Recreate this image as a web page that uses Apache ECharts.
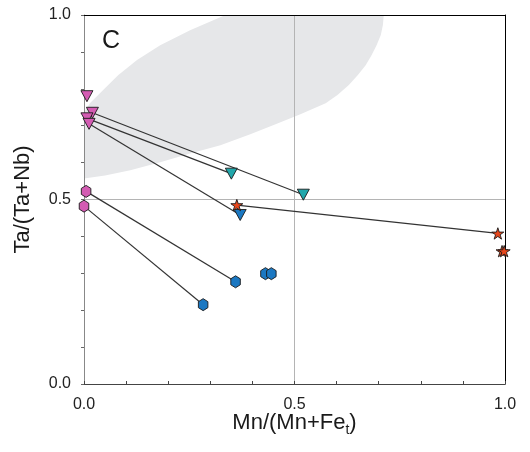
<!DOCTYPE html>
<html>
<head>
<meta charset="utf-8">
<script src="https://cdn.jsdelivr.net/npm/echarts@6/dist/echarts.min.js"></script>
<style>html,body{margin:0;padding:0;background:#fff;}#c{width:530px;height:452px;}</style>
</head>
<body>
<div id="c"></div>
<script>
// ---- data (x = Mn/(Mn+Fe_t), y = Ta/(Ta+Nb)) ----
const pinkTriangles = [[0.007, 0.78], [0.02, 0.735], [0.007, 0.72], [0.012, 0.705]];
const tealTriangles = [[0.35, 0.57], [0.521, 0.513]];
const blueTriangles = [[0.371, 0.458]];
const redStars = [[0.363, 0.485], [0.983, 0.408], [0.993, 0.36], [0.998, 0.36]];
const pinkHexagons = [[0.005, 0.522], [0.0, 0.482]];
const blueHexagons = [[0.36, 0.277], [0.283, 0.215], [0.431, 0.299], [0.445, 0.299]];
const tieLines = [
  [[0.02, 0.735], [0.521, 0.513]],
  [[0.007, 0.72], [0.35, 0.57]],
  [[0.012, 0.705], [0.371, 0.458]],
  [[0.363, 0.485], [0.983, 0.408]],
  [[0.005, 0.522], [0.36, 0.277]],
  [[0.0, 0.482], [0.283, 0.215]]
];
// shaded field outline (visible part inside the plot)
const fieldOutline = [
  [0, 0.557], [0, 0.736], [0.014, 0.761], [0.045, 0.796], [0.081, 0.837], [0.126, 0.878],
  [0.181, 0.918], [0.252, 0.959], [0.336, 1.0], [0.712, 1.0], [0.710, 0.973], [0.705, 0.946],
  [0.695, 0.918], [0.683, 0.891], [0.669, 0.864], [0.650, 0.837], [0.629, 0.810], [0.602, 0.783],
  [0.574, 0.761], [0.514, 0.731], [0.455, 0.704], [0.395, 0.677], [0.324, 0.647], [0.252, 0.625],
  [0.181, 0.601], [0.110, 0.579], [0.050, 0.565]
];
const xTickLabels = ['0.0', '0.5', '1.0'];
const yTickLabels = ['0.0', '0.5', '1.0'];

const FONT = 'Liberation Sans, Arial, sans-serif';
const hexPath = 'path://M0,-1L0.866,-0.5L0.866,0.5L0,1L-0.866,0.5L-0.866,-0.5Z';
const starPath = 'path://M0,-1L0.2245,-0.309L0.951,-0.309L0.363,0.118L0.588,0.809L0,0.382L-0.588,0.809L-0.363,0.118L-0.951,-0.309L-0.2245,-0.309Z';

function fmt(list) {
  return function (v) {
    const s = v.toFixed(1);
    return list.indexOf(s) >= 0 ? s : '';
  };
}

const chart = echarts.init(document.getElementById('c'), null, { renderer: 'canvas' });

const series = [];
series.push({
  type: 'custom',
  z: -1,
  silent: true,
  data: [[0.5, 0.5]],
  renderItem: function (params, api) {
    return {
      type: 'polygon',
      shape: { points: fieldOutline.map(p => api.coord(p)) },
      style: { fill: '#e6e7e9' }
    };
  }
});
tieLines.forEach(function (seg) {
  series.push({
    type: 'line', data: seg, symbol: 'none', silent: true, z: 2,
    lineStyle: { color: '#333', width: 1.2 }
  });
});
function scatter(data, symbol, size, color, rotate) {
  return {
    type: 'scatter', data: data, symbol: symbol, symbolSize: size, symbolRotate: rotate || 0,
    symbolKeepAspect: true, z: 3,
    itemStyle: { color: color, borderColor: '#1a1a1a', borderWidth: 0.9, opacity: 1 }
  };
}
series.push(scatter(pinkHexagons, hexPath, [11, 12], '#d45cb3'));
series.push(scatter(blueHexagons, hexPath, [11, 12], '#1b78c2'));
series.push(scatter(pinkTriangles, 'triangle', [12, 11], '#d45cb3', 180));
series.push(scatter(tealTriangles, 'triangle', [12, 11], '#21a7ab', 180));
series.push(scatter(blueTriangles, 'triangle', [12, 11], '#1b78c2', 180));
series.push(scatter(redStars, starPath, [12, 12], '#e8471c'));

chart.setOption({
  animation: false,
  backgroundColor: '#fff',
  grid: { left: 84, top: 15, right: 25, bottom: 68, containLabel: false },
  graphic: [{
    type: 'text', left: 102, top: 29,
    style: { text: 'C', font: '25px ' + FONT, fill: '#1a1a1a' }
  }],
  xAxis: [{
    type: 'value', min: 0, max: 1, interval: 0.5,
    name: '{a|Mn/(Mn+Fe}{s|t}{a|)}',
    nameLocation: 'middle', nameGap: 24, nameMoveOverlap: false,
    nameTextStyle: {
      rich: {
        a: { fontFamily: FONT, fontSize: 22, color: '#1a1a1a', lineHeight: 26 },
        s: { fontFamily: FONT, fontSize: 14, color: '#1a1a1a', padding: [15, 0, 0, 0] }
      }
    },
    axisLine: { show: true, onZero: false, lineStyle: { color: '#444', width: 1 } },
    axisTick: { show: true, inside: true, length: 3, lineStyle: { color: '#444' } },
    minorTick: { show: true, splitNumber: 5, length: 3, lineStyle: { color: '#444' } },
    axisLabel: { formatter: fmt(xTickLabels), fontFamily: FONT, fontSize: 16, color: '#222', margin: 13 },
    splitLine: { show: true, lineStyle: { color: '#b4b4b4', width: 1 } }
  }, {
    type: 'value', min: 0, max: 1, position: 'top',
    axisLine: { show: true, onZero: false, lineStyle: { color: '#000', width: 1 } },
    axisTick: { show: false }, axisLabel: { show: false }, splitLine: { show: false }
  }],
  yAxis: [{
    type: 'value', min: 0, max: 1, interval: 0.5,
    name: 'Ta/(Ta+Nb)',
    nameLocation: 'middle', nameGap: 50, nameMoveOverlap: false,
    nameTextStyle: { fontFamily: FONT, fontSize: 22, color: '#1a1a1a' },
    axisLine: { show: true, onZero: false, lineStyle: { color: '#888', width: 1 } },
    axisTick: { show: true, inside: false, length: 3, lineStyle: { color: '#666' } },
    minorTick: { show: true, splitNumber: 5, length: 3, lineStyle: { color: '#666' } },
    axisLabel: { formatter: fmt(yTickLabels), fontFamily: FONT, fontSize: 16, color: '#222', margin: 13 },
    splitLine: { show: true, lineStyle: { color: '#b4b4b4', width: 1 } }
  }, {
    type: 'value', min: 0, max: 1, position: 'right',
    axisLine: { show: true, onZero: false, lineStyle: { color: '#000', width: 1 } },
    axisTick: { show: false }, axisLabel: { show: false }, splitLine: { show: false }
  }],
  series: series
});
</script>
</body>
</html>
